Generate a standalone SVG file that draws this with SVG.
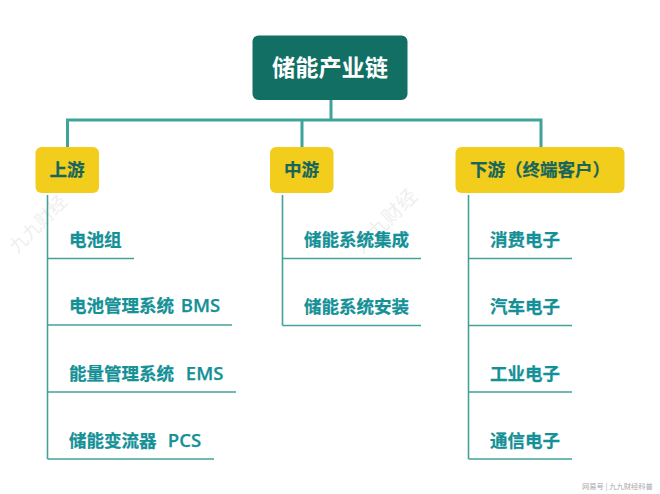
<svg xmlns="http://www.w3.org/2000/svg" width="660" height="494" viewBox="0 0 660 494">
<style>
text{font-family:"Noto Sans CJK SC","Noto Sans",sans-serif;font-weight:700}
.root{fill:#126f64}
.cat{fill:#f3cd1c}
.rt{fill:#fff;font-size:23.200px}
.ct{fill:#17665c;font-size:17.500px;stroke:#17665c;stroke-width:.25}
.lt{fill:#149097;font-size:17.500px;stroke:#149097;stroke-width:.25}
.lat{font-family:"Open Sans","Noto Sans",sans-serif;font-size:18.500px;font-weight:600}
.main{fill:none;stroke:#3fa39a;stroke-width:3}
.sub{fill:none;stroke:#45a198;stroke-width:1.6}
.wm{fill:#efefef;font-size:20px;font-weight:400}
.wm3{fill:#efefef;font-size:18px;font-weight:400}
.wm2{fill:#a8a8a8;font-size:7.300px;font-weight:400}
</style>
<rect width="660" height="494" fill="#fff"/>
<text class="wm3" transform="translate(17 254) rotate(-45)">九九财经</text>
<text class="wm" transform="translate(362 254) rotate(-45)">九九财经</text>
<g id="connectors">
<path class="main" d="M331 99V120M67.500 147V120H541V147M302 120V147"/>
<path class="sub" d="M47.500 195V459M47.500 258.500H134M47.500 325H232M47.500 392H236M47.500 459H214"/>
<path class="sub" d="M282.500 195V325.500M282.500 258.500H421M282.500 325.500H421"/>
<path class="sub" d="M468.500 195V459M468.500 258.500H572M468.500 325.500H572M468.500 392H572M468.500 459H572"/>
</g>
<g id="root"><rect class="root" x="252.500" y="35.500" width="155" height="64.500" rx="6"/><text class="rt" x="330" y="76" text-anchor="middle">储能产业链</text></g>
<g id="upstream"><rect class="cat" x="35.500" y="147" width="63.500" height="46" rx="6"/><text class="ct" x="67" y="176" text-anchor="middle">上游</text></g>
<g id="midstream"><rect class="cat" x="270" y="147" width="63.500" height="46" rx="6"/><text class="ct" x="301.500" y="176" text-anchor="middle">中游</text></g>
<g id="downstream"><rect class="cat" x="455.500" y="147" width="169" height="46" rx="6"/><text class="ct" x="470" y="176">下游（终端客户）</text></g>
<g id="u1"><text class="lt" x="69" y="246">电池组</text></g>
<g id="u2"><text class="lt" x="69" y="312">电池管理系统<tspan class="lat" x="176"> BMS</tspan></text></g>
<g id="u3"><text class="lt" x="69" y="379.500">能量管理系统<tspan class="lat" x="181"> EMS</tspan></text></g>
<g id="u4"><text class="lt" x="69" y="446.500">储能变流器<tspan class="lat" x="163"> PCS</tspan></text></g>
<g id="m1"><text class="lt" x="304" y="246">储能系统集成</text></g>
<g id="m2"><text class="lt" x="304" y="312.500">储能系统安装</text></g>
<g id="d1"><text class="lt" x="490" y="246">消费电子</text></g>
<g id="d2"><text class="lt" x="490" y="312.500">汽车电子</text></g>
<g id="d3"><text class="lt" x="490" y="380">工业电子</text></g>
<g id="d4"><text class="lt" x="490" y="447">通信电子</text></g>
<text class="wm2" x="582" y="489">网易号 | 九九财经科普</text>
</svg>
